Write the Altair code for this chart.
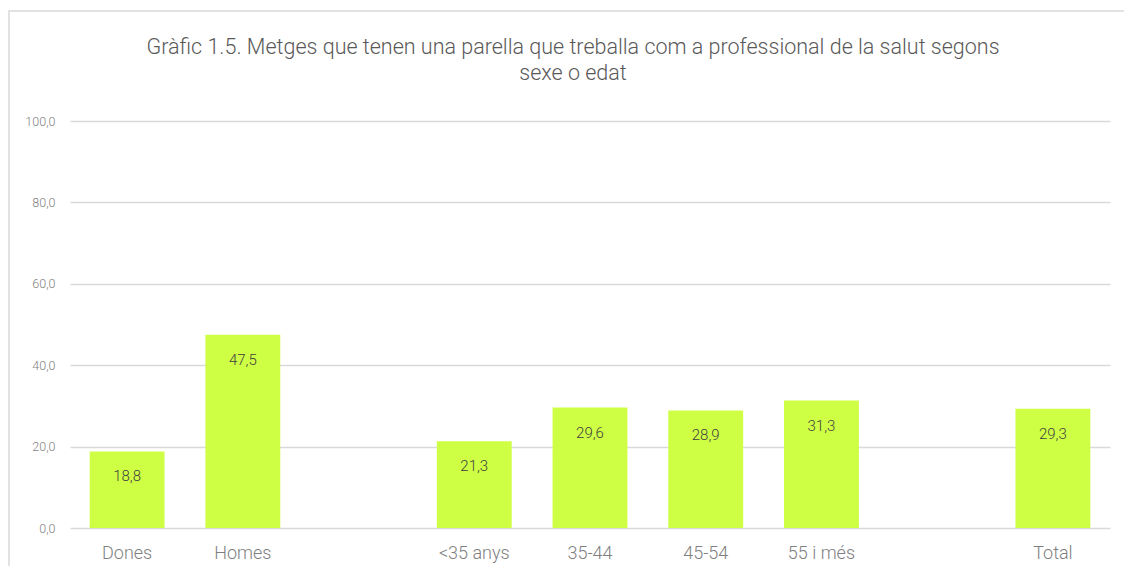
import altair as alt
import pandas as pd

categories = ["Dones", "Homes", "<35 anys", "35-44", "45-54", "55 i més", "Total"]
values = [18.8, 47.5, 21.3, 29.6, 28.9, 31.3, 29.3]
axis_order = ["Dones", "Homes", " ", "<35 anys", "35-44", "45-54", "55 i més", "  ", "Total"]
y_ticks = [0, 20, 40, 60, 80, 100]

df = pd.DataFrame({"cat": categories, "val": values})
df["label"] = [f"{v:.1f}".replace(".", ",") for v in values]

FONT = "Roboto"
W, H = 1040, 407
PAD = {"left": 62, "top": 113, "right": 14, "bottom": 38}

x = alt.X(
    "cat:N",
    sort=axis_order,
    scale=alt.Scale(domain=axis_order, paddingInner=0.353, paddingOuter=0.17),
    axis=alt.Axis(
        title=None, labelAngle=0, ticks=False, domain=False, labelFontSize=18,
        labelColor="#7f7f7f", labelFont=FONT, labelFontWeight=300, labelPadding=16,
    ),
)
y = alt.Y(
    "val:Q",
    scale=alt.Scale(domain=[0, 100]),
    axis=alt.Axis(
        title=None, values=y_ticks, domain=False, ticks=False,
        labelExpr="replace(format(datum.value, '.1f'), '.', ',')",
        labelFontSize=12.5, labelColor="#7f7f7f", labelFont=FONT, labelFontWeight=300,
        labelPadding=15, gridColor="#d9d9d9", gridWidth=1.5,
    ),
)

base = alt.Chart(df)

bars = base.mark_bar(color="#CFFF45").encode(x=x, y=y)
labels = base.mark_text(
    baseline="middle", dy=25, fontSize=15, color="#404040", font=FONT, fontWeight=300
).encode(x=alt.X("cat:N", sort=axis_order), y="val:Q", text="label:N")

border = alt.Chart(pd.DataFrame({"a": [0]})).mark_rect(
    fill=None, stroke="#d9d9d9", strokeWidth=1.5
).encode(
    x=alt.value(-61), x2=alt.value(W + PAD["right"] + 5),
    y=alt.value(-110), y2=alt.value(H + PAD["bottom"] + 5)
)

chart = (
    alt.layer(border, bars, labels)
    .properties(
        width=W,
        height=H,
        title=alt.TitleParams(
            text=["Gràfic 1.5. Metges que tenen una parella que treballa com a professional de la salut segons",
                  "sexe o edat"],
            fontSize=21.5, font=FONT, fontWeight=300, color="#595959",
            anchor="middle", frame="group", offset=0, dy=74, lineHeight=26, dx=-17,
        ),
        padding=PAD,
        autosize=alt.AutoSizeParams(type="none"),
    )
    .configure_view(stroke=None)
)

chart.save("out.html", embed_options={"renderer": "svg", "actions": False})
